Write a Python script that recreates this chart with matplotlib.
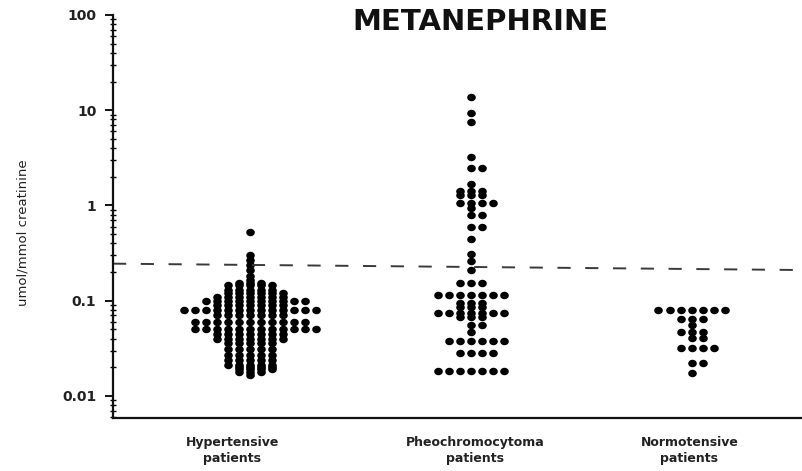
# Dot plot of urinary metanephrine (log scale) for three patient groups.

import numpy as np
import matplotlib
matplotlib.use("Agg")
import matplotlib.pyplot as plt
from matplotlib.path import Path
from matplotlib.transforms import Affine2D
from matplotlib.ticker import LogLocator, NullFormatter

TITLE = "METANEPHRINE"
Y_LABEL = "umol/mmol creatinine"
GROUP_LABELS = ["Hypertensive\npatients", "Pheochromocytoma\npatients", "Normotensive\npatients"]

# one entry per value level, count = number of patients drawn on that level
hyper_levels = [0.53, 0.30, 0.27, 0.24, 0.21, 0.18, 0.165, 0.155, 0.145, 0.13,
                0.12, 0.11, 0.10, 0.09, 0.08, 0.07, 0.06, 0.05, 0.045, 0.04,
                0.036, 0.031, 0.027, 0.024, 0.021, 0.02, 0.019, 0.018, 0.0165]
hyper_counts = [1, 1, 1, 1, 1, 1, 1, 3, 5, 5,
                6, 7, 10, 7, 13, 7, 11, 12, 7, 7,
                5, 5, 5, 5, 5, 4, 4, 3, 1]

pheo_levels = [13.8, 9.4, 7.6, 3.2, 2.5, 1.7, 1.42, 1.28, 1.05, 0.93,
               0.80, 0.60, 0.44, 0.31, 0.26, 0.21, 0.155, 0.114, 0.095, 0.085,
               0.075, 0.068, 0.056, 0.047, 0.038, 0.0285, 0.0184]
pheo_counts = [1, 1, 1, 1, 2, 1, 3, 3, 4, 1,
               2, 2, 1, 1, 1, 1, 3, 7, 3, 3,
               7, 3, 2, 1, 6, 4, 7]

normo_levels = [0.08, 0.065, 0.056, 0.047, 0.041, 0.032, 0.0224, 0.0176]
normo_counts = [7, 3, 1, 3, 2, 4, 2, 1]

# upper normal limit, drawn a bit tilted like the scanned original
cutoff_ends = [0.245, 0.21]

Y_TICKS = [0.01, 0.1, 1, 10, 100]
Y_TICK_LABELS = ["0.01", "0.1", "1", "10", "100"]

GROUP_X = [1.0, 2.0, 3.0]
LABEL_X = [0.92, 2.02, 2.99]
DOT_STEP = 0.05  # horizontal distance between neighbouring dots
X_LIM = (0.38, 3.5)
Y_LIM = (0.00587, 100)


def row_offsets(n):
  # 0, +1, -1, +2, -2 ... so all rows share the same columns
  return [((i + 1) // 2) * (1 if i % 2 else -1) for i in range(n)]


def layout(center, levels, counts):
  xs, ys = [], []
  for val, cnt in zip(levels, counts):
    for k in row_offsets(cnt):
      xs.append(center + k * DOT_STEP)
      ys.append(val)
  return xs, ys


def plot_metanephrine(out_name):
  plt.rcParams['font.family'] = ['DejaVu Sans']
  plt.rcParams['lines.scale_dashes'] = False
  fig = plt.figure(figsize=(8.02, 4.71), dpi=100, facecolor='w')
  ax = fig.add_axes([113 / 802, 53 / 471, 689 / 802, 403 / 471])

  dot = Path.unit_circle().transformed(Affine2D().scale(1.15, 1.0))
  groups = [(hyper_levels, hyper_counts), (pheo_levels, pheo_counts), (normo_levels, normo_counts)]
  for center, (levels, counts) in zip(GROUP_X, groups):
    xs, ys = layout(center, levels, counts)
    ax.plot(xs, ys, linestyle='none', marker=dot, markersize=6.2,
            color='black', markeredgewidth=0)

  ax.plot(list(X_LIM), cutoff_ends, color='#3a3a3a', linewidth=1.4,
          dashes=[9.5, 10.5])

  ax.set_yscale('log')
  ax.set_xlim(*X_LIM)
  ax.set_ylim(*Y_LIM)
  ax.set_yticks(Y_TICKS)
  ax.set_yticklabels(Y_TICK_LABELS, fontsize=10, fontweight='bold', color='#222222')
  ax.yaxis.set_minor_locator(LogLocator(base=10, subs=np.arange(2, 10)))
  ax.yaxis.set_minor_formatter(NullFormatter())
  ax.tick_params(axis='y', which='major', direction='out', length=6, width=1.3, pad=6)
  ax.tick_params(axis='y', which='minor', direction='inout', length=4, width=1.0)

  ax.set_xticks(LABEL_X)
  ax.set_xticklabels(GROUP_LABELS, fontsize=9, fontweight='bold', color='#222222',
                     linespacing=1.3)
  ax.tick_params(axis='x', length=0, pad=13)

  for side in ['top', 'right']:
    ax.spines[side].set_visible(False)
  for side in ['left', 'bottom']:
    ax.spines[side].set_linewidth(1.6)
    ax.spines[side].set_color('#111111')

  fig.text(23 / 802, 1 - 233 / 471, Y_LABEL, rotation=90, ha='center', va='center',
           fontsize=9.5, color='#222222')
  fig.text(480 / 802, 1 - 22 / 471, TITLE, ha='center', va='center',
           fontsize=21, fontweight='bold', color='#111111')

  fig.savefig(out_name, dpi=100)
  plt.close()


def main():
  plot_metanephrine("out.png")


if __name__ == "__main__":
  main()
